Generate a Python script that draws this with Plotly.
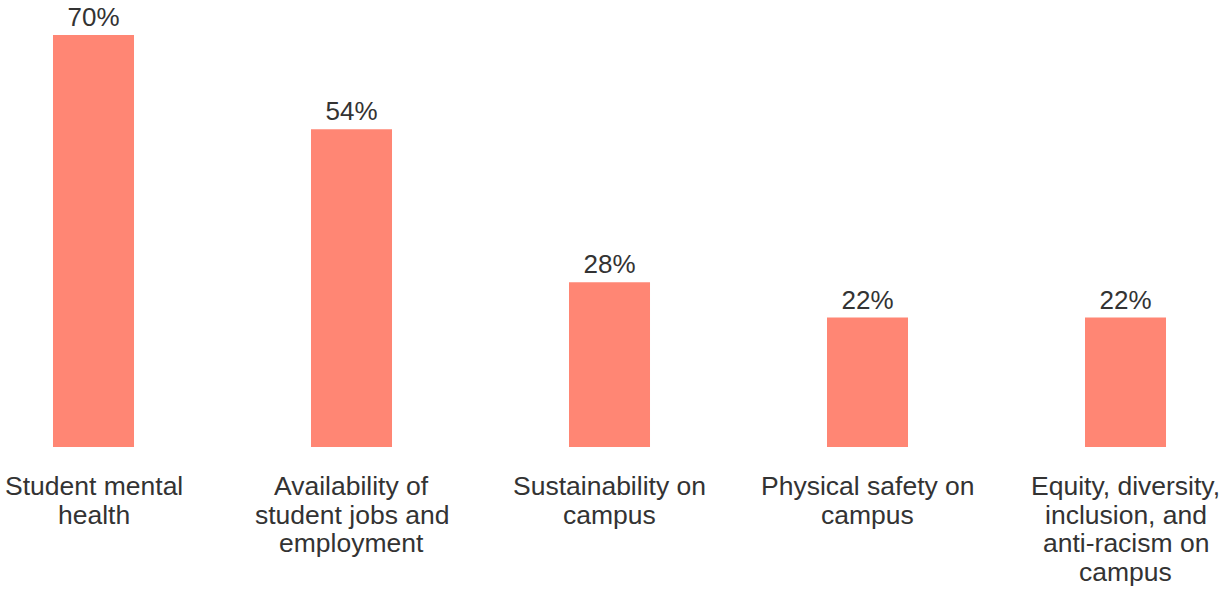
import plotly.graph_objects as go

# Survey results: share of respondents naming each campus priority
categories = [
    "Student mental<br>health",
    "Availability of<br>student jobs and<br>employment",
    "Sustainability on<br>campus",
    "Physical safety on<br>campus",
    "Equity, diversity,<br>inclusion, and<br>anti-racism on<br>campus",
]
values = [70, 54, 28, 22, 22]

BAR_COLOR = "#FF8674"
TEXT_COLOR = "#333333"
FONT = "Liberation Sans, Arial, sans-serif"

W, H = 1222, 589
PLOT_BOTTOM = 447          # pixel row of the bar baseline
VALUE_FONT_SIZE = 26
LABEL_FONT_SIZE = 26.5
LINE_STEP = 28.6           # spacing between wrapped category lines

x_idx = list(range(len(categories)))

fig = go.Figure(
    go.Bar(
        x=x_idx,
        y=values,
        width=0.314,
        marker=dict(color=BAR_COLOR, line=dict(width=0)),
        texttemplate="%{y}%",
        textposition="outside",
        cliponaxis=False,
        textfont=dict(family=FONT, size=VALUE_FONT_SIZE, color=TEXT_COLOR),
        hoverinfo="skip",
    )
)

# Category names drawn line by line beneath each bar
annotations = []
for i, label in enumerate(categories):
    for j, line in enumerate(label.split("<br>")):
        center_px = 486 + LINE_STEP * j
        annotations.append(
            dict(
                x=i,
                xref="x",
                y=(PLOT_BOTTOM - center_px) / PLOT_BOTTOM,
                yref="paper",
                text=line,
                showarrow=False,
                xanchor="center",
                yanchor="middle",
                font=dict(family=FONT, size=LABEL_FONT_SIZE, color=TEXT_COLOR),
            )
        )

fig.update_layout(
    width=W,
    height=H,
    margin=dict(l=0, r=0, t=0, b=H - PLOT_BOTTOM, pad=0),
    paper_bgcolor="white",
    plot_bgcolor="white",
    showlegend=False,
    annotations=annotations,
    xaxis=dict(
        type="linear",
        range=[-0.3624, 4.374],
        showticklabels=False,
        showgrid=False,
        zeroline=False,
        showline=False,
        ticks="",
        fixedrange=True,
    ),
    yaxis=dict(
        range=[0, 75.95],
        visible=False,
        showgrid=False,
        zeroline=False,
        fixedrange=True,
    ),
)

fig.write_html("out.html", config={"displayModeBar": False})
